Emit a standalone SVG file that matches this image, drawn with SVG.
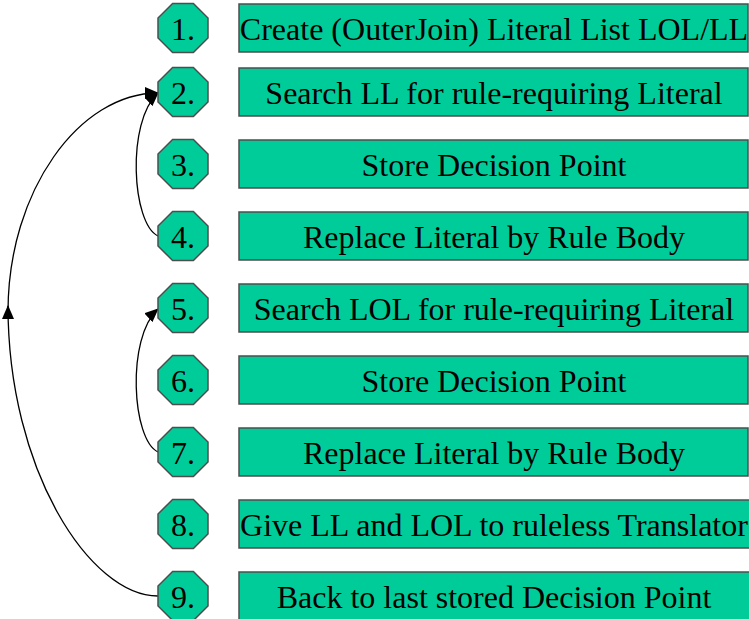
<svg xmlns="http://www.w3.org/2000/svg" width="749" height="619" viewBox="0 0 749 619">
<style>
.box{fill:#00CC99;stroke:#4d4d4d;stroke-width:1.5}
.oct{fill:#00CC99;stroke:#4d4d4d;stroke-width:1.5}
.t{font-family:"Liberation Serif","Times New Roman",serif;font-size:32px;fill:#000;text-anchor:middle}
.c{fill:none;stroke:#000;stroke-width:1.3}
</style>
<defs>
<marker id="ah" markerWidth="14" markerHeight="12" refX="13" refY="6" orient="auto" markerUnits="userSpaceOnUse">
<path d="M0,0 L14,6 L0,12 Z" fill="#000"/>
</marker>
<polygon id="octshape" class="oct" points="-10.4,-24.5 10.4,-24.5 25,-10 25,10 10.4,24.5 -10.4,24.5 -25,10 -25,-10"/>
</defs>
<g id="connectors">
<path class="c" d="M158,236 C132,224 126,122 158,93" marker-end="url(#ah)"/>
<path class="c" d="M158,452 C132,440 126,338 158,309" marker-end="url(#ah)"/>
<path class="c" d="M158,596 C90,596 8,470 8,306" marker-end="url(#ah)"/>
<path class="c" d="M8,312 C8,190 80,93 158,93" marker-end="url(#ah)"/>
</g>
<g id="n1"><use href="#octshape" x="183" y="28"/><text class="t" x="183" y="40">1.</text><rect class="box" x="239" y="4" width="509" height="48"/><text class="t" x="494" y="40">Create (OuterJoin) Literal List LOL/LL</text></g>
<g id="n2"><use href="#octshape" x="183" y="92"/><text class="t" x="183" y="104">2.</text><rect class="box" x="239" y="68" width="509" height="48"/><text class="t" x="494" y="104">Search LL for rule-requiring Literal</text></g>
<g id="n3"><use href="#octshape" x="183" y="164"/><text class="t" x="183" y="176">3.</text><rect class="box" x="239" y="140" width="509" height="48"/><text class="t" x="494" y="176">Store Decision Point</text></g>
<g id="n4"><use href="#octshape" x="183" y="236"/><text class="t" x="183" y="248">4.</text><rect class="box" x="239" y="212" width="509" height="48"/><text class="t" x="494" y="248">Replace Literal by Rule Body</text></g>
<g id="n5"><use href="#octshape" x="183" y="308"/><text class="t" x="183" y="320">5.</text><rect class="box" x="239" y="284" width="509" height="48"/><text class="t" x="494" y="320">Search LOL for rule-requiring Literal</text></g>
<g id="n6"><use href="#octshape" x="183" y="380"/><text class="t" x="183" y="392">6.</text><rect class="box" x="239" y="356" width="509" height="48"/><text class="t" x="494" y="392">Store Decision Point</text></g>
<g id="n7"><use href="#octshape" x="183" y="452"/><text class="t" x="183" y="464">7.</text><rect class="box" x="239" y="428" width="509" height="48"/><text class="t" x="494" y="464">Replace Literal by Rule Body</text></g>
<g id="n8"><use href="#octshape" x="183" y="524"/><text class="t" x="183" y="536">8.</text><rect class="box" x="239" y="500" width="512" height="48"/><text class="t" x="494" y="536">Give LL and LOL to ruleless Translator</text></g>
<g id="n9"><use href="#octshape" x="183" y="596"/><text class="t" x="183" y="608">9.</text><rect class="box" x="239" y="572" width="512" height="50"/><text class="t" x="494" y="608">Back to last stored Decision Point</text></g>
</svg>
